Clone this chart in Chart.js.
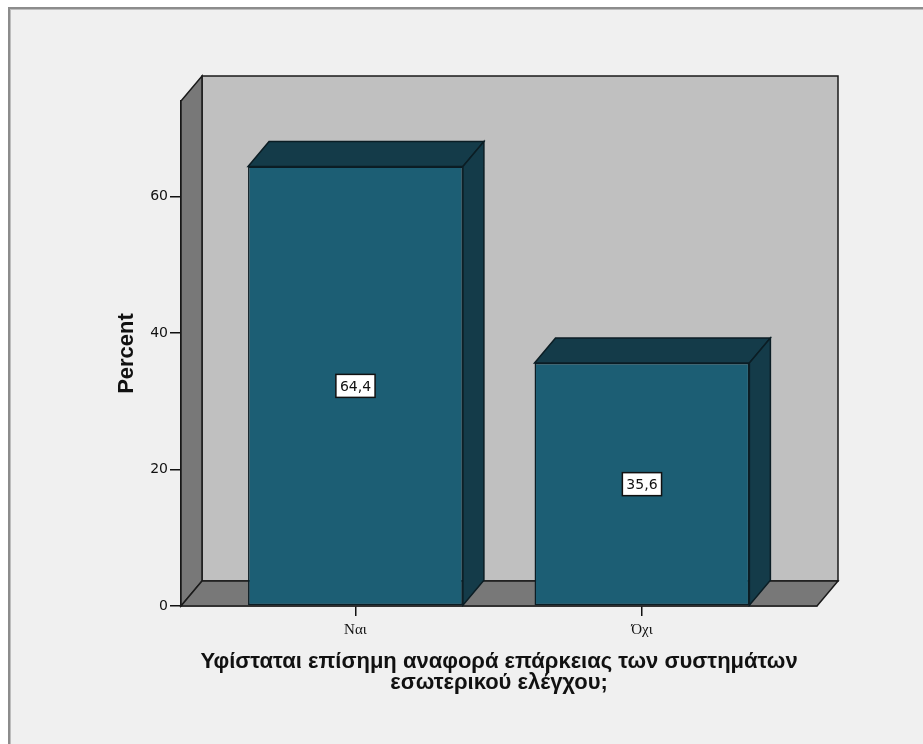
<!DOCTYPE html>
<html>
<head>
<meta charset="utf-8">
<script src="https://cdn.jsdelivr.net/npm/chart.js@4"></script>
<style>
  html, body { margin: 0; padding: 0; background: #ffffff; }
  #frame {
    position: absolute; left: 8px; top: 7px; width: 930px; height: 750px;
    background: #f0f0f0;
    border-left: 2px solid #8c8c8c; border-top: 2px solid #8c8c8c;
    box-shadow: inset 1px 1px 0 #bdbdbd;
  }
  #chart { position: absolute; left: 0; top: 0; }
</style>
</head>
<body>
<div id="frame"></div>
<canvas id="chart" width="923" height="744"></canvas>
<script>
// Survey answer: does a formal report on internal-control adequacy exist?
const categories = ['Ναι', 'Όχι'];
const percentValues = [64.4, 35.6];
const valueLabels = ['64,4', '35,6'];
const yTickValues = [0, 20, 40, 60];
const axisTitleLines = ['Υφίσταται επίσημη αναφορά επάρκειας των συστημάτων', 'εσωτερικού ελέγχου;'];

// depth offset of the pseudo-3D box (pixels)
const DX = 21, DY = -25;
const FRONT = '#1c5e74', DARK = '#143b49';

function poly(ctx, pts, fill, stroke) {
  ctx.beginPath();
  ctx.moveTo(pts[0][0], pts[0][1]);
  for (let i = 1; i < pts.length; i++) ctx.lineTo(pts[i][0], pts[i][1]);
  ctx.closePath();
  ctx.fillStyle = fill;
  ctx.fill();
  ctx.lineWidth = 1.5;
  ctx.strokeStyle = stroke;
  ctx.lineJoin = 'miter';
  ctx.stroke();
}

const box3d = {
  id: 'box3d',
  beforeDatasetsDraw(chart) {
    const ctx = chart.ctx;
    const {left: l, right: r, top: t, bottom: b} = chart.chartArea;
    ctx.save();
    // back wall
    poly(ctx, [[l + DX, t + DY], [r + DX, t + DY], [r + DX, b + DY], [l + DX, b + DY]], '#c0c0c0', '#1a1a1a');
    // left side wall
    poly(ctx, [[l, t], [l + DX, t + DY], [l + DX, b + DY], [l, b]], '#787878', '#1a1a1a');
    // floor
    poly(ctx, [[l, b], [l + DX, b + DY], [r + DX, b + DY], [r, b]], '#787878', '#1a1a1a');
    ctx.restore();
  },
  afterDatasetsDraw(chart) {
    const ctx = chart.ctx;
    const meta = chart.getDatasetMeta(0);
    ctx.save();
    meta.data.forEach(bar => {
      const {x, y, base, width} = bar.getProps(['x', 'y', 'base', 'width'], true);
      const L = x - width / 2, R = x + width / 2;
      // top face
      poly(ctx, [[L, y], [L + DX, y + DY], [R + DX, y + DY], [R, y]], DARK, '#0b1d24');
      // right side face
      poly(ctx, [[R, y], [R + DX, y + DY], [R + DX, base + DY], [R, base]], DARK, '#0b1d24');
    });
    ctx.restore();
  },
  afterDraw(chart) {
    const ctx = chart.ctx;
    const meta = chart.getDatasetMeta(0);
    ctx.save();
    ctx.font = '14px "DejaVu Sans"';
    ctx.textAlign = 'center';
    ctx.textBaseline = 'middle';
    meta.data.forEach((bar, i) => {
      const {x, y, base} = bar.getProps(['x', 'y', 'base'], true);
      const cy = (y + base) / 2;
      const w = ctx.measureText(valueLabels[i]).width + 8;
      const h = 23;
      ctx.fillStyle = '#ffffff';
      ctx.fillRect(x - w / 2, cy - h / 2, w, h);
      ctx.lineWidth = 1.5;
      ctx.strokeStyle = '#111';
      ctx.strokeRect(x - w / 2, cy - h / 2, w, h);
      ctx.fillStyle = '#111';
      ctx.fillText(valueLabels[i], x, cy + 1);
    });
    ctx.restore();
  }
};

new Chart(document.getElementById('chart'), {
  type: 'bar',
  data: {
    datasets: [{
      data: categories.map((c, i) => ({x: i, y: percentValues[i]})),
      backgroundColor: FRONT,
      borderColor: '#0b1d24',
      borderWidth: 1.5,
      borderSkipped: false,
      barPercentage: 0.75,
      categoryPercentage: 1
    }]
  },
  options: {
    responsive: false,
    animation: false,
    devicePixelRatio: 1,
    layout: { padding: { left: 112, right: 106, top: 101, bottom: 38 } },
    plugins: { legend: { display: false }, tooltip: { enabled: false } },
    scales: {
      x: {
        type: 'linear',
        offset: false,
        min: -0.609,
        max: 1.611,
        z: 1,
        afterBuildTicks: s => { s.ticks = categories.map((c, i) => ({value: i})); },
        afterFit: s => { s.height = 100; },
        grid: { display: true, drawOnChartArea: false, drawTicks: true, tickLength: 10, color: '#111', lineWidth: 1.5, offset: false },
        border: { display: true, color: '#111', width: 1.5 },
        ticks: {
          autoSkip: false, maxRotation: 0, padding: 5,
          color: '#111',
          font: { family: '"Liberation Serif"', size: 15 },
          callback: v => categories[v]
        },
        title: {
          display: true,
          text: axisTitleLines,
          color: '#111',
          font: { family: '"Liberation Sans"', size: 22, weight: 'bold', lineHeight: '21px' },
          padding: { top: 0, bottom: 13 }
        }
      },
      y: {
        min: 0,
        max: 74,
        z: 1,
        afterBuildTicks: s => { s.ticks = yTickValues.map(v => ({value: v})); },
        afterFit: s => { s.width = 69; },
        grid: { display: true, drawOnChartArea: false, drawTicks: true, tickLength: 11, color: '#111', lineWidth: 1.5 },
        border: { display: true, color: '#111', width: 1.5 },
        ticks: {
          padding: 2,
          color: '#111',
          font: { family: '"DejaVu Sans"', size: 14 }
        },
        title: {
          display: true,
          text: 'Percent',
          color: '#111',
          font: { family: '"Liberation Sans"', size: 22, weight: 'bold', lineHeight: 1.2 },
          padding: { top: 2, bottom: 0 }
        }
      }
    }
  },
  plugins: [box3d]
});
</script>
</body>
</html>
